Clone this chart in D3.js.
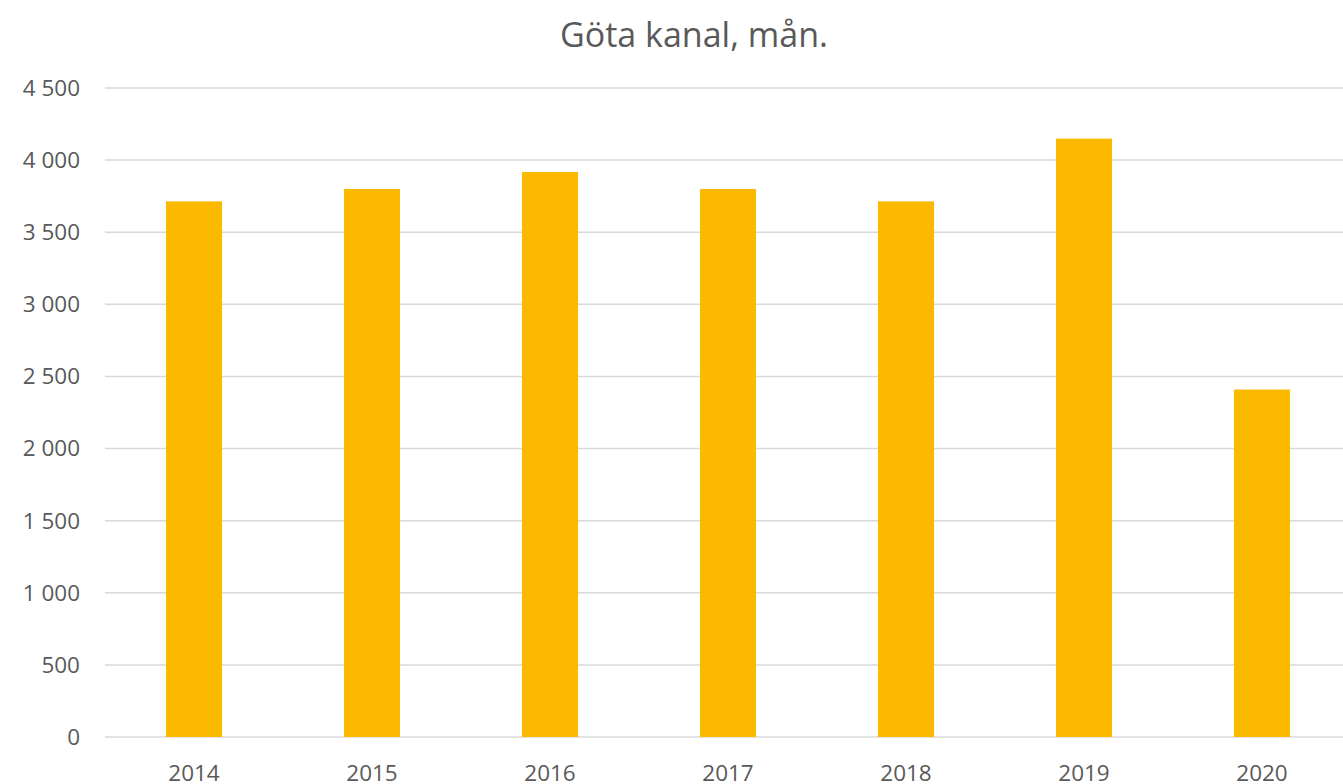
<!DOCTYPE html>
<html>
<head>
<meta charset="utf-8">
<script src="https://cdn.jsdelivr.net/npm/d3@7"></script>
<style>
  body { margin: 0; background: #fff; }
  svg text { font-family: "Open Sans", "Noto Sans", sans-serif; fill: #595959; }
</style>
</head>
<body>
<svg class="chart"></svg>
<script>
const years = ["2014", "2015", "2016", "2017", "2018", "2019", "2020"];
const values = [3714, 3800, 3918, 3800, 3714, 4149, 2409];
const yTicks = [0, 500, 1000, 1500, 2000, 2500, 3000, 3500, 4000, 4500];

const W = 1343, H = 784;
const margin = {top: 88, right: -8, bottom: 47, left: 105};
const width = W - margin.left - margin.right;
const height = H - margin.top - margin.bottom;

const svg = d3.select('.chart').attr('width', W).attr('height', H);

svg.append('text')
   .attr('x', 694).attr('y', 47)
   .attr('text-anchor', 'middle')
   .style('font-size', '34px')
   .text('Göta kanal, mån.');

const g = svg.append('g').attr('transform', 'translate(' + margin.left + ',' + margin.top + ')');

const x = d3.scaleBand().domain(years).range([0, width]).paddingInner(0.685).paddingOuter(0.3425);
const y = d3.scaleLinear().domain([0, 4500]).range([height, 0]);

// gridlines
g.selectAll('.grid')
 .data(yTicks)
 .enter().append('line')
   .attr('x1', 0).attr('x2', width)
   .attr('y1', d => y(d)).attr('y2', d => y(d))
   .attr('stroke', '#d9d9d9').attr('stroke-width', 1.5);

// y labels
const fmt = d => d3.format(',')(d).replace(',', ' ');
g.selectAll('.ylab')
 .data(yTicks)
 .enter().append('text')
   .attr('x', -25).attr('y', d => y(d))
   .attr('dy', '0.35em')
   .attr('text-anchor', 'end')
   .style('font-size', '22.5px')
   .text(fmt);

// bars
g.selectAll('.bar')
 .data(values)
 .enter().append('rect')
   .attr('x', (d, i) => x(years[i]))
   .attr('width', x.bandwidth())
   .attr('y', d => y(d))
   .attr('height', d => y(0) - y(d))
   .attr('fill', '#fbba00');

// x labels
g.selectAll('.xlab')
 .data(years)
 .enter().append('text')
   .attr('x', d => x(d) + x.bandwidth() / 2)
   .attr('y', height + 44)
   .attr('text-anchor', 'middle')
   .style('font-size', '22.5px')
   .text(d => d);
</script>
</body>
</html>
